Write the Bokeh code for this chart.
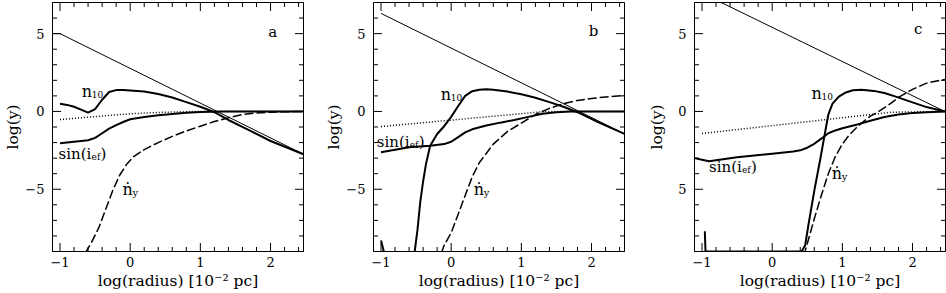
import math
from bokeh.plotting import figure
from bokeh.models import Range1d, SingleIntervalTicker, Label
from bokeh.layouts import row
from bokeh.embed import file_html
from bokeh.resources import INLINE

FONT = "DejaVu Serif"

# ---------------- data ----------------
x_major_ticks = [-1, 0, 1, 2]
x_minor_ticks = [-0.8, -0.6, -0.4, -0.2, 0.2, 0.4, 0.6, 0.8, 1.2, 1.4, 1.6, 1.8, 2.2, 2.4]
y_major_ticks = [-5, 0, 5]
y_minor_ticks = [-8, -7, -6, -4, -3, -2, -1, 1, 2, 3, 4, 6]
x_tick_labels = {-1: "\u22121"}
y_tick_labels_ab = {-5: "\u22125"}
y_tick_labels_c = {-5: "5"}

# panel a
a_line_x = [-1.107, -1.0, 2.47]
a_line_y = [5.0, 5.0, -2.75]
a_n10_x = [-1.0, -0.9, -0.8, -0.7, -0.6, -0.5, -0.4, -0.3, -0.2, -0.1, 0.0, 0.2, 0.4, 0.6, 0.8, 1.0, 1.2, 1.4, 1.7, 2.0, 2.47]
a_n10_y = [0.5, 0.42, 0.3, 0.12, -0.08, 0.15, 0.75, 1.25, 1.37, 1.38, 1.35, 1.28, 1.12, 0.9, 0.6, 0.3, -0.05, -0.55, -1.22, -1.9, -2.75]
a_sin_x = [-1.0, -0.8, -0.6, -0.5, -0.4, -0.3, -0.2, -0.1, 0.0, 0.2, 0.4, 0.6, 0.8, 1.0, 1.3, 2.47]
a_sin_y = [-2.05, -1.95, -1.85, -1.7, -1.4, -1.1, -0.88, -0.68, -0.5, -0.36, -0.25, -0.16, -0.09, -0.04, 0.0, 0.0]
a_dot_x = [-1.0, 0.0, 0.5, 1.0, 2.47]
a_dot_y = [-0.52, -0.15, -0.05, 0.0, 0.0]
a_ny_x = [-0.64, -0.55, -0.45, -0.35, -0.25, -0.15, -0.05, 0.05, 0.2, 0.4, 0.6, 0.8, 1.0, 1.2, 1.4, 1.6, 1.8, 2.0, 2.2, 2.47]
a_ny_y = [-9.1, -8.4, -7.5, -6.3, -5.1, -4.1, -3.4, -2.9, -2.45, -2.0, -1.6, -1.25, -0.95, -0.65, -0.4, -0.2, -0.1, -0.05, -0.02, 0.0]

# panel b
b_line_x = [-1.0, 2.47]
b_line_y = [6.3, -1.44]
b_n10_x = [-1.0, -0.96, -0.93, -0.56, -0.52, -0.48, -0.44, -0.4, -0.36, -0.3, -0.2, -0.1, 0.0, 0.1, 0.2, 0.3, 0.4, 0.5, 0.6, 0.8, 1.0, 1.2, 1.4, 1.6, 1.8, 2.1, 2.47]
b_n10_y = [-8.3, -9.0, -9.6, -9.6, -9.0, -7.6, -5.8, -4.5, -3.4, -2.2, -1.45, -0.95, -0.35, 0.35, 1.0, 1.3, 1.4, 1.42, 1.4, 1.28, 1.1, 0.88, 0.6, 0.3, -0.05, -0.7, -1.44]
b_sin_x = [-1.0, -0.6, -0.3, -0.1, 0.0, 0.1, 0.2, 0.3, 0.5, 0.7, 0.9, 1.1, 1.3, 1.5, 1.7, 2.47]
b_sin_y = [-2.62, -2.3, -2.2, -2.1, -1.95, -1.65, -1.35, -1.15, -0.9, -0.72, -0.55, -0.35, -0.15, -0.05, 0.0, 0.0]
b_dot_x = [-1.0, 1.35, 2.47]
b_dot_y = [-0.97, 0.0, 0.0]
b_ny_x = [-0.14, -0.1, 0.0, 0.1, 0.2, 0.3, 0.4, 0.5, 0.6, 0.8, 1.0, 1.2, 1.4, 1.6, 1.8, 2.0, 2.2, 2.47]
b_ny_y = [-9.1, -8.6, -7.8, -6.6, -5.4, -4.2, -3.3, -2.7, -2.1, -1.3, -0.75, -0.2, 0.2, 0.5, 0.71, 0.83, 0.93, 1.03]

# panel c
c_line_x = [-1.0, 2.46]
c_line_y = [7.6, 0.0]
c_n10_x = [-0.96, -0.95, 0.42, 0.47, 0.52, 0.6, 0.68, 0.74, 0.8, 0.86, 0.95, 1.05, 1.15, 1.27, 1.45, 1.6, 1.75, 2.0, 2.2, 2.46]
c_n10_y = [-7.7, -9.0, -9.0, -8.6, -7.2, -5.1, -3.2, -1.7, -0.2, 0.5, 0.95, 1.22, 1.36, 1.4, 1.32, 1.18, 0.97, 0.58, 0.28, 0.0]
c_sin_x = [-1.107, -1.0, -0.9, -0.5, 0.0, 0.3, 0.4, 0.5, 0.6, 0.7, 0.8, 0.9, 1.0, 1.2, 1.4, 1.6, 1.8, 2.0, 2.2, 2.46]
c_sin_y = [-3.0, -3.1, -3.2, -2.95, -2.72, -2.58, -2.5, -2.33, -2.08, -1.75, -1.4, -1.22, -1.08, -0.85, -0.6, -0.36, -0.2, -0.1, -0.05, 0.0]
c_dot_x = [-1.0, 1.7, 2.46]
c_dot_y = [-1.42, -0.05, 0.0]
c_ny_x = [0.45, 0.5, 0.6, 0.7, 0.8, 0.9, 1.0, 1.1, 1.2, 1.3, 1.4, 1.5, 1.6, 1.7, 1.8, 2.0, 2.2, 2.46]
c_ny_y = [-9.3, -8.5, -6.9, -5.4, -4.0, -2.9, -2.1, -1.5, -1.05, -0.65, -0.3, -0.05, 0.25, 0.55, 0.9, 1.42, 1.82, 2.06]

X_RANGE = (-1.107, 2.47)
Y_RANGE = (-9.0, 7.0)


def add_text(p, x, y, text, size, dx=0, dy=0, align="left", baseline="alphabetic"):
    p.add_layout(Label(x=x, y=y, text=text, x_offset=dx, y_offset=dy,
                       text_font=FONT, text_font_size=size, text_color="black",
                       text_align=align, text_baseline=baseline))


def frame_ticks(p):
    # inward ticks on all four sides of the frame (half of each mark is clipped away)
    x0, x1 = X_RANGE
    y0, y1 = Y_RANGE
    for ticks, size in ((x_major_ticks, 17), (x_minor_ticks, 9)):
        for yy in (y0, y1):
            p.scatter(x=ticks, y=[yy] * len(ticks), marker="dash", size=size,
                      angle=math.pi / 2, line_color="black", line_width=1)
    for ticks, size in ((y_major_ticks, 17), (y_minor_ticks, 9)):
        for xx in (x0, x1):
            p.scatter(x=[xx] * len(ticks), y=ticks, marker="dash", size=size,
                      line_color="black", line_width=1)


def panel(letter, line, n10, sin, dot, ny, lab, yover, width, right_border, ylab_standoff):
    p = figure(width=width, height=293, output_backend="svg", toolbar_location=None,
               x_range=Range1d(*X_RANGE), y_range=Range1d(*Y_RANGE),
               min_border_left=52, min_border_right=right_border,
               min_border_top=2, min_border_bottom=42)
    p.xgrid.visible = False
    p.ygrid.visible = False
    p.outline_line_color = "black"
    p.outline_line_width = 1
    p.background_fill_color = "white"
    p.border_fill_color = "white"

    p.xaxis.ticker = SingleIntervalTicker(interval=1)
    p.yaxis.ticker = SingleIntervalTicker(interval=5)
    p.xaxis.major_label_overrides = x_tick_labels
    p.yaxis.major_label_overrides = yover
    p.xaxis.axis_label = "log(radius) [10\u207b\u00b2 pc]"
    p.yaxis.axis_label = "log(y)"
    for ax in (p.xaxis[0], p.yaxis[0]):
        ax.major_tick_in = 0
        ax.major_tick_out = 0
        ax.minor_tick_in = 0
        ax.minor_tick_out = 0
        ax.axis_line_color = "black"
        ax.major_label_text_font = FONT
        ax.major_label_text_font_size = "13px"
        ax.major_label_text_color = "black"
        ax.axis_label_text_font = FONT
        ax.axis_label_text_font_size = "15.5px"
        ax.axis_label_text_font_style = "normal"
        ax.axis_label_text_color = "black"
    p.xaxis.major_label_standoff = 5
    p.xaxis.axis_label_standoff = 2
    p.yaxis.major_label_standoff = 8
    p.yaxis.axis_label_standoff = ylab_standoff

    frame_ticks(p)

    p.line(line[0], line[1], line_color="black", line_width=1)
    p.line(dot[0], dot[1], line_color="black", line_width=1.5, line_dash="1 2")
    p.line(ny[0], ny[1], line_color="black", line_width=1.5, line_dash="9 3")
    p.line(sin[0], sin[1], line_color="black", line_width=2)
    p.line(n10[0], n10[1], line_color="black", line_width=2)

    # annotations
    add_text(p, lab["letter"][0], lab["letter"][1], letter, "15px", align="center", baseline="middle")
    nx, nyy = lab["n10"]
    add_text(p, nx, nyy, "n", "16px")
    add_text(p, nx, nyy, "10", "9px", dx=10, dy=-3)
    sx, sy = lab["sin"]
    add_text(p, sx, sy, "sin(i", "15px")
    add_text(p, sx, sy, "ef", "9px", dx=33, dy=-3)
    add_text(p, sx, sy, ")", "15px", dx=42)
    dx_, dy_ = lab["ny"]
    add_text(p, dx_, dy_, "\u1e45", "16px")
    add_text(p, dx_, dy_, "y", "10px", dx=10, dy=-3)
    return p


pa = panel("a", (a_line_x, a_line_y), (a_n10_x, a_n10_y), (a_sin_x, a_sin_y),
           (a_dot_x, a_dot_y), (a_ny_x, a_ny_y),
           {"letter": (2.03, 5.1), "n10": (-0.69, 1.25), "sin": (-1.02, -2.72), "ny": (-0.11, -5.0)},
           y_tick_labels_ab, 321, 18, 0)
pb = panel("b", (b_line_x, b_line_y), (b_n10_x, b_n10_y), (b_sin_x, b_sin_y),
           (b_dot_x, b_dot_y), (b_ny_x, b_ny_y),
           {"letter": (2.03, 5.2), "n10": (-0.15, 1.1), "sin": (-1.06, -1.95), "ny": (0.32, -5.0)},
           y_tick_labels_ab, 321, 18, 0)
pc = panel("c", (c_line_x, c_line_y), (c_n10_x, c_n10_y), (c_sin_x, c_sin_y),
           (c_dot_x, c_dot_y), (c_ny_x, c_ny_y),
           {"letter": (2.08, 5.3), "n10": (0.56, 1.15), "sin": (-0.9, -3.6), "ny": (0.85, -4.0)},
           y_tick_labels_c, 304, 1, 9)

layout = row(pa, pb, pc)
open("out.html", "w").write(file_html(layout, INLINE))
